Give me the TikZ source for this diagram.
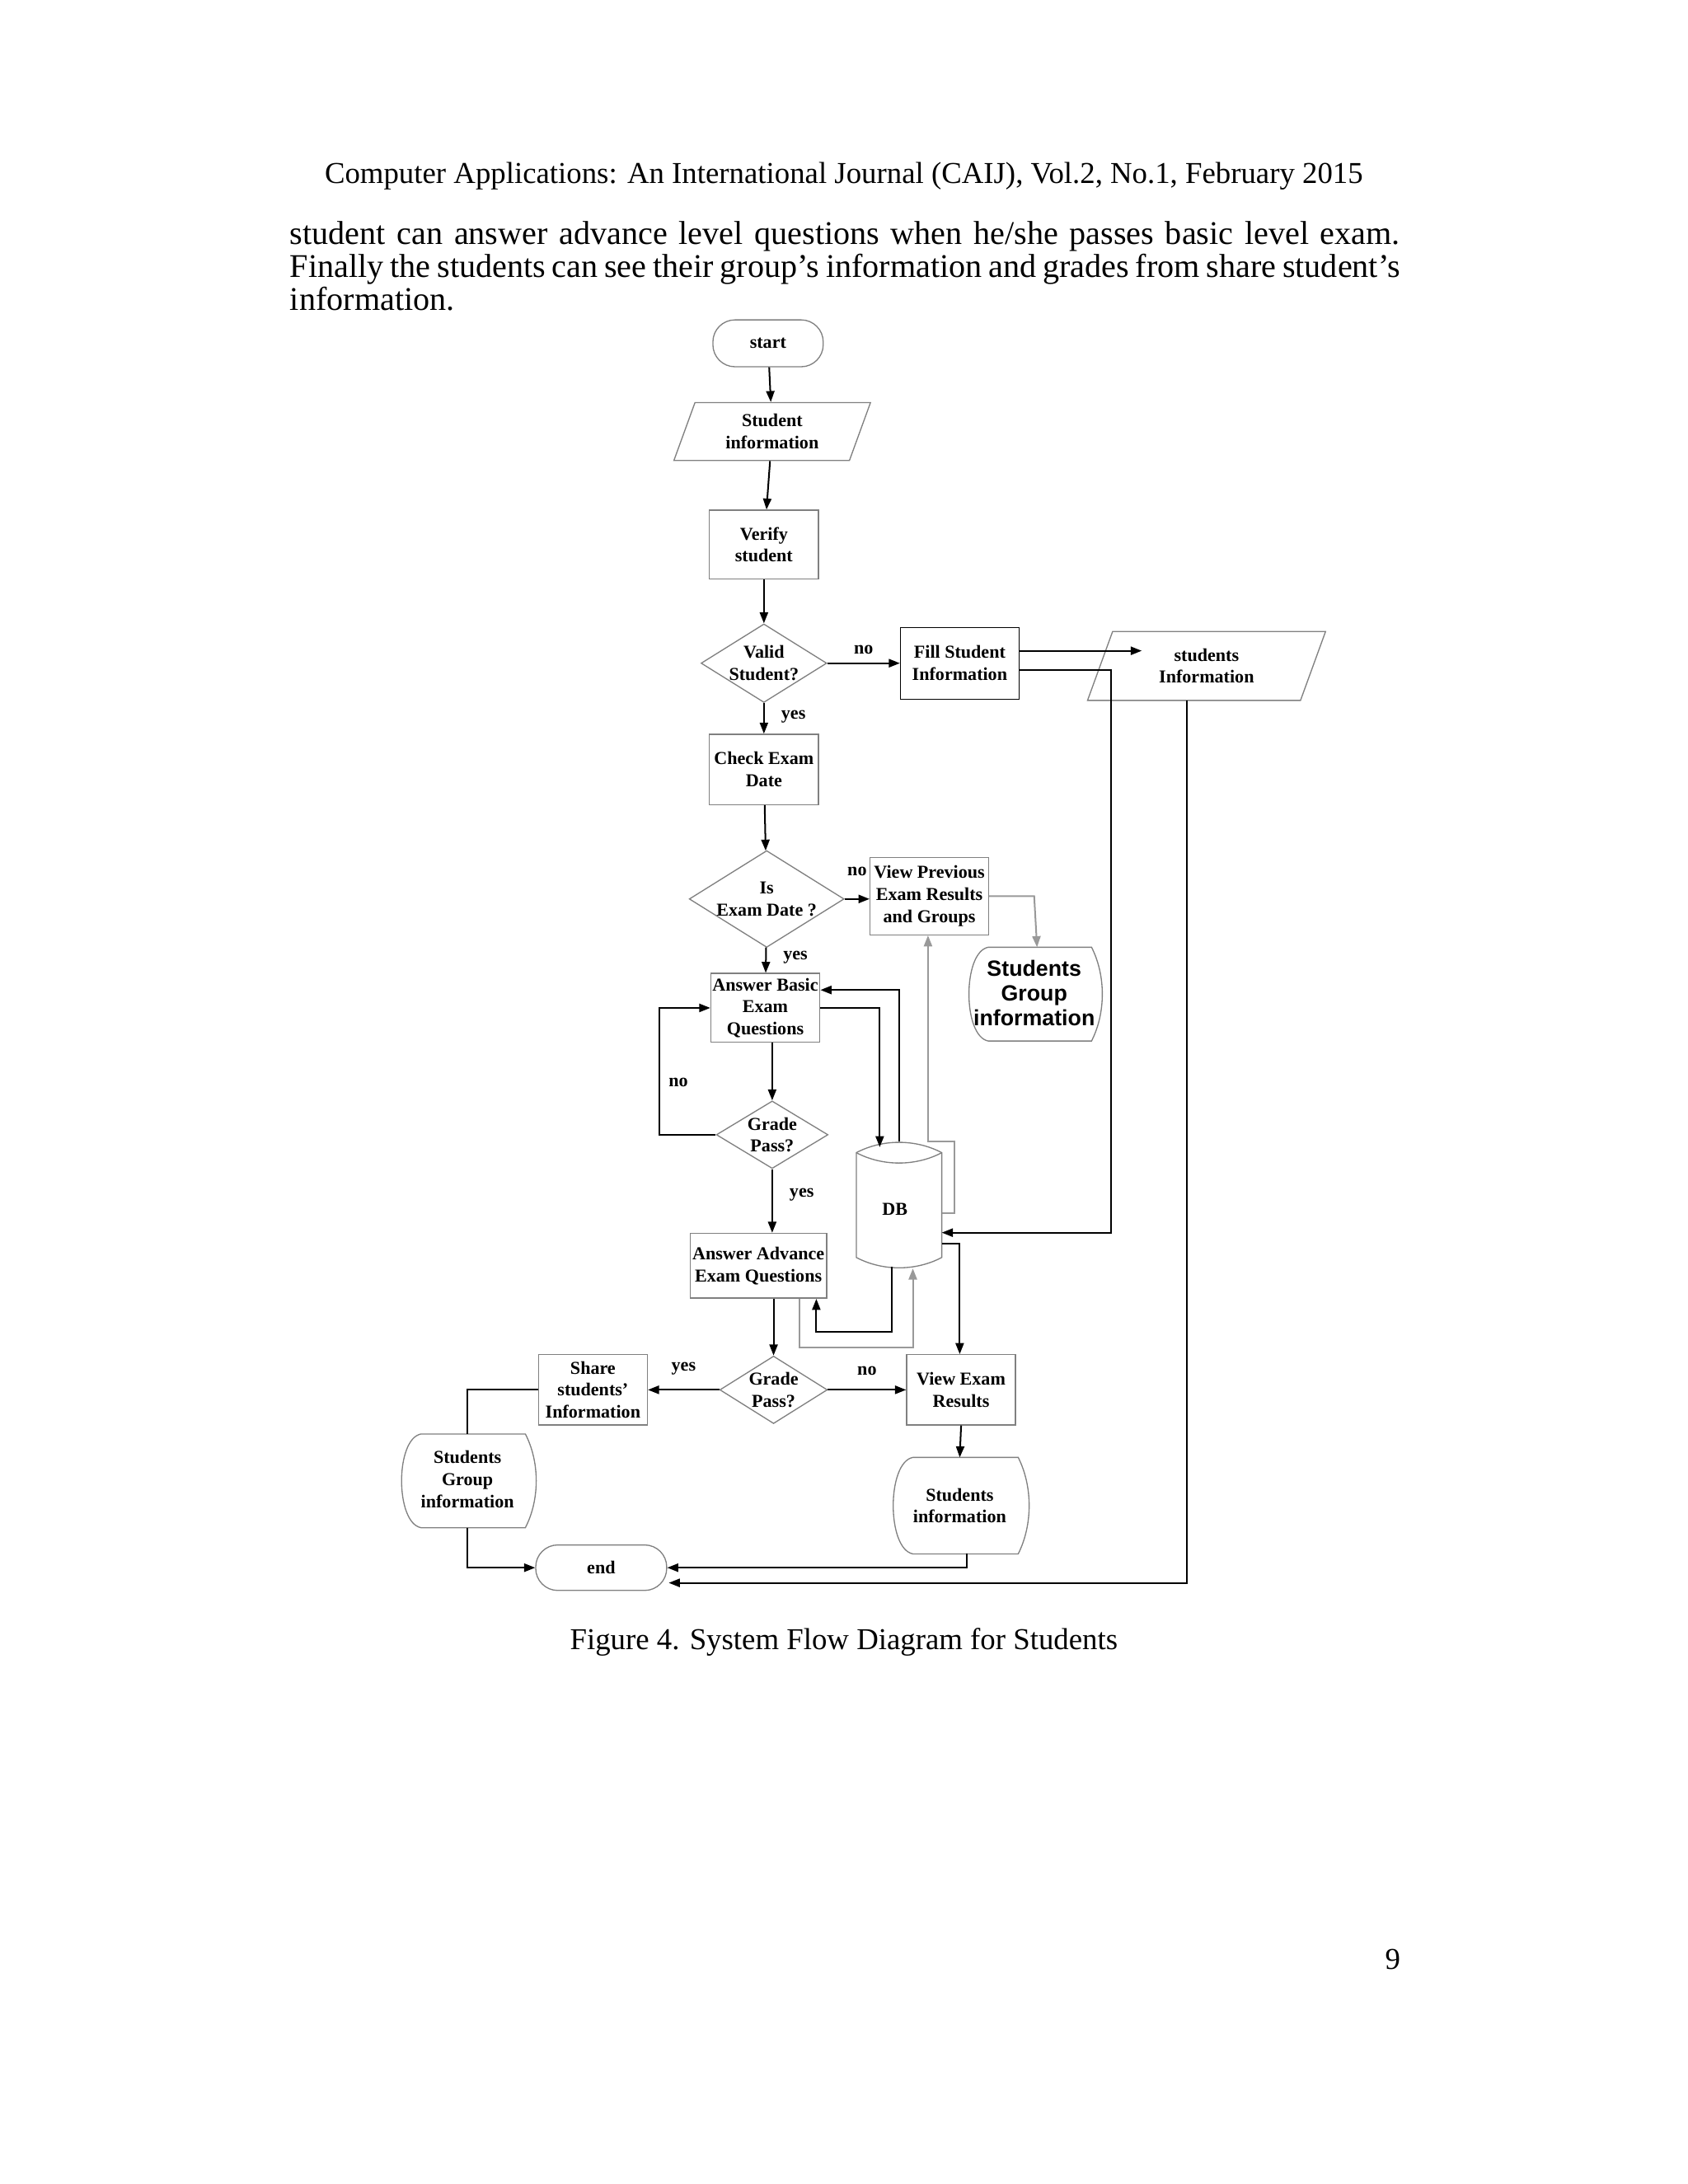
\documentclass[tikz,border=0pt]{standalone}
\usepackage{fontspec}
\setmainfont{Liberation Serif}
\newfontfamily\sansf{Liberation Sans}
\usetikzlibrary{arrows.meta,shapes.geometric}
\begin{document}
\begin{tikzpicture}[x=0.5pt,y=-0.5pt,
  lbl/.style={font=\bfseries\fontsize{6.6}{8}\selectfont,align=center,inner sep=0pt},
  boxn/.style={draw=gray,lbl,minimum width=#1},
  dia/.style={draw=gray,diamond,aspect=1.6,lbl,inner sep=0pt},
  para/.style={draw=gray,trapezium,trapezium left angle=70,trapezium right angle=110,lbl},
  term/.style={draw=gray,rounded corners=8pt,lbl},
  ar/.style={-{Triangle[length=4pt,width=3pt]},line width=0.6pt},
  gl/.style={ar,draw=gray!80},
  pl/.style={line width=0.6pt},
  tag/.style={font=\bfseries\fontsize{6.6}{8}\selectfont,inner sep=0pt}]
\useasboundingbox (0,0) rectangle (1224,1584);
% page text
\node at (612,128) {\fontsize{11}{13}\selectfont Computer Applications: An International Journal (CAIJ), Vol.2, No.1, February 2015};
\node[anchor=north west,inner sep=0pt,text width=402.5pt,align=justify] at (210,160) {\fontsize{12}{11.8}\selectfont student can answer advance level questions when he/she passes basic level exam. Finally the students can see their group's information and grades from share student's information.};
\node at (612,1191) {\fontsize{11}{13}\selectfont Figure 4. System Flow Diagram for Students};
\node at (1010,1421) {\fontsize{11}{13}\selectfont 9};
% nodes
\node[term,minimum width=40pt,minimum height=17pt] (start) at (557,249) {start};
\node[para,minimum width=50pt,minimum height=21pt] (sinfo) at (560,313) {Student\\information};
\node[boxn=39.5pt,minimum height=25pt] (verify) at (554,395) {Verify\\student};
\node[dia,minimum width=39.5pt,minimum height=21pt] (valid) at (554,481) {Valid\\Student?};
\node[draw,lbl,minimum width=43pt,minimum height=26pt] (fill) at (696,481) {Fill Student\\Information};
\node[para,minimum width=52pt,minimum height=25pt] (sinf2) at (875,483) {students\\Information};
\node[boxn=39.5pt,minimum height=25.5pt] (check) at (554,558) {Check Exam\\Date};
\node[dia,minimum width=53pt,minimum height=35pt] (isdate) at (556,652) {Is\\Exam Date ?};
\node[boxn=43pt,minimum height=28pt] (viewprev) at (674,650) {View Previous\\Exam Results\\and Groups};
\node[boxn=39.5pt,minimum height=25pt] (basic) at (555,731) {Answer Basic\\Exam\\Questions};
\node[dia,minimum width=40.5pt,minimum height=24.5pt] (grade1) at (560,823) {Grade\\Pass?};
\node[boxn=49.5pt,minimum height=23.5pt] (adv) at (550,918) {Answer Advance\\Exam Questions};
\node[dia,minimum width=39pt,minimum height=24.5pt] (grade2) at (561,1008) {Grade\\Pass?};
\node[boxn=39.5pt,minimum height=25.5pt] (share) at (430,1008) {Share\\students'\\Information};
\node[boxn=39.5pt,minimum height=25.5pt] (viewres) at (697,1008) {View Exam\\Results};
\node[term,minimum width=47.5pt,minimum height=16.5pt] (end) at (436,1137) {end};
% stored data shapes
\newcommand\stdata[5]{% name cx cy w h
  \pgfmathsetmacro\xa{#2-#4/2}\pgfmathsetmacro\xb{#2+#4/2}
  \pgfmathsetmacro\ya{#3-#5/2}\pgfmathsetmacro\yb{#3+#5/2}
  \pgfmathsetmacro\xl{\xa+0.18*#4}\pgfmathsetmacro\xr{\xb-0.1*#4}
  \draw[gray] (\xl,\ya) -- (\xr,\ya) .. controls (\xb,\ya+0.3*#5) and (\xb,\yb-0.3*#5) .. (\xr,\yb)
     -- (\xl,\yb) .. controls (\xa,\yb-0.05*#5) and (\xa,\ya+0.05*#5) .. (\xl,\ya);
  \coordinate (#1-n) at (#2+0.02*#4,\ya);}
\stdata{sg1}{750}{721}{104}{68}
\node[inner sep=0pt,align=center,font=\sansf\bfseries\fontsize{8}{9}\selectfont] at (750,720) {Students\\Group\\information};
\stdata{sg2}{339}{1074}{105}{68}
\node[lbl] (sg2t) at (339,1073) {Students\\Group\\information};
\stdata{si}{696}{1092}{106}{70}
\node[lbl] (sit) at (696,1092) {Students\\information};
% DB cylinder
\draw[gray] (621,836) .. controls (640,826) and (664,826) .. (683,836) -- (683,912)
  .. controls (664,922) and (640,922) .. (621,912) -- cycle;
\draw[gray] (621,836) .. controls (640,846) and (664,846) .. (683,836);
\node[lbl] (db) at (649,877) {DB};
% connectors
\draw[ar] (start) -- (sinfo);
\draw[ar] (sinfo) -- (verify);
\draw[ar] (verify) -- (valid);
\draw[ar] (valid) -- (fill.west|-valid) node[tag,pos=0.5,above=3pt] {no};
\draw[ar] (fill.east|-0,472) -- (828,472);
\draw[ar] (fill.east|-0,486) -- (806,486) -- (806,894) -- (683,894);
\draw[ar] (861,508) -- (861,1148) -- (485,1148);
\draw[ar] (valid) -- (check) node[tag,pos=0.45,right=6pt] {yes};
\draw[ar] (check) -- (isdate);
\draw[ar] (isdate.east) -- (viewprev.west|-isdate.east) node[tag,pos=0.5,above=8pt] {no};
\draw[gl] (viewprev.east) -- (750,650) -- (sg1-n);
\draw[ar] (isdate) -- (basic) node[tag,pos=0.4,right=6pt] {yes};
\draw[ar] (basic.south-|560,0) -- (grade1);
\draw[ar] (grade1.west) -- (478,823) -- (478,731) -- (basic.west);
\node[tag] at (492,785) {no};
\draw[ar] (grade1) -- (adv.north-|560,0) node[tag,pos=0.4,right=6pt] {yes};
\draw[ar] (595,731) -- (638,731) -- (638,832);
\draw[ar] (652,828) -- (652,718) -- (595,718);
\draw[gl] (683,880) -- (692,880) -- (692,828) -- (673,828) -- (viewprev.south-|673,0);
\draw[ar] (647,919) -- (647,966) -- (592,966) -- (592,942);
\draw[gl] (580,942) -- (580,977) -- (662,977) -- (662,920);
\draw[ar] (683,902) -- (696,902) -- (viewres.north-|696,0);
\draw[ar] (adv.south-|561,0) -- (grade2.north);
\draw[ar] (grade2.west) -- (share.east) node[tag,pos=0.5,above=5pt] {yes};
\draw[ar] (grade2.east) -- (viewres.west) node[tag,pos=0.5,above=5pt] {no};
\draw[pl] (share.west) -- (339,1008) -- (339,1040);
\draw[ar] (339,1108) -- (339,1137) -- (end.west);
\draw[ar] (viewres.south) -- (696,1057);
\draw[ar] (701,1127) -- (701,1137) -- (end.east);
\end{tikzpicture}
\end{document}
